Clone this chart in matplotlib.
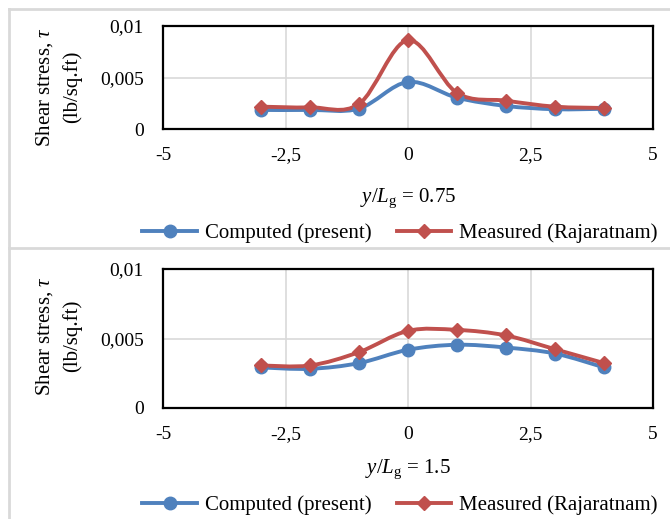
import matplotlib
matplotlib.use("Agg")
import matplotlib.pyplot as plt
import numpy as np
from matplotlib.lines import Line2D
from matplotlib.path import Path
from matplotlib.patches import PathPatch

plt.rcParams['font.family'] = ['Liberation Serif', 'DejaVu Serif']
plt.rcParams['mathtext.fontset'] = 'custom'
plt.rcParams['mathtext.rm'] = 'Liberation Serif'
plt.rcParams['mathtext.it'] = 'Liberation Serif:italic'

# data
y_pos = [-3, -2, -1, 0, 1, 2, 3, 4]
computed_075 = [0.00185, 0.00185, 0.00198, 0.00457, 0.00304, 0.00224, 0.00192, 0.00196]
measured_075 = [0.00217, 0.00210, 0.00243, 0.00863, 0.00351, 0.00275, 0.00217, 0.00204]
computed_15 = [0.00292, 0.00282, 0.00323, 0.00419, 0.00455, 0.00435, 0.00392, 0.00292]
measured_15 = [0.00306, 0.00306, 0.00402, 0.00555, 0.00562, 0.00522, 0.00423, 0.00323]

x_ticks = [-5, -2.5, 0, 2.5, 5]
x_tick_labels = ['-5', '-2,5', '0', '2,5', '5']
y_ticks = [0, 0.005, 0.01]
y_tick_labels = ['0', '0,005', '0,01']
panel_titles = ['0.75', '1.5']
series_names = ['Computed (present)', 'Measured (Rajaratnam)']

BLUE = '#4F81BD'
RED = '#C0504D'
GRID = '#D9D9D9'

W, H = 670, 519


def smooth_path(x, y):
    '''
    Excel-like smoothed line: cubic Bezier through the points (Catmull-Rom)
    '''
    pts = np.column_stack([x, y]).astype(float)
    n = len(pts)
    verts = [pts[0]]
    codes = [Path.MOVETO]
    for i in range(n - 1):
        p0 = pts[i - 1] if i > 0 else pts[i]
        p1 = pts[i]
        p2 = pts[i + 1]
        p3 = pts[i + 2] if i + 2 < n else pts[i + 1]
        c1 = p1 + (p2 - p0) / 6.0
        c2 = p2 - (p3 - p1) / 6.0
        verts += [c1, c2, p2]
        codes += [Path.CURVE4] * 3
    return Path(verts, codes)


def fx(px):
    return px / W


def fy(py):
    return 1 - py / H


fig = plt.figure(figsize=(6.7, 5.19), dpi=100)

# panel frames
for seg in [((9, 670), (9, 9)), ((9, 9), (9, 519)), ((9, 670), (248, 248))]:
    fig.add_artist(Line2D([fx(seg[0][0]), fx(seg[0][1])], [fy(seg[1][0]), fy(seg[1][1])],
                          color=GRID, lw=2.0, transform=fig.transFigure))

panels = [
    dict(top=26, bottom=129, comp=computed_075, meas=measured_075, ylab=87, xlab=198, leg=233),
    dict(top=269, bottom=408, comp=computed_15, meas=measured_15, ylab=336, xlab=469, leg=505),
]

for p, title in zip(panels, panel_titles):
    ax = fig.add_axes([fx(163), fy(p['bottom']), fx(653) - fx(163), (p['bottom'] - p['top']) / H])
    ax.set_xlim(-5, 5)
    ax.set_ylim(0, 0.01)
    ax.set_xticks(x_ticks)
    ax.set_xticklabels(x_tick_labels)
    ax.set_yticks(y_ticks)
    ax.set_yticklabels(y_tick_labels)
    ax.tick_params(axis='both', length=0, labelsize=14)
    ax.tick_params(axis='x', pad=13)
    ax.tick_params(axis='y', pad=14)
    ax.grid(True, color=GRID, lw=1.2)
    ax.set_axisbelow(True)
    for s in ax.spines.values():
        s.set_linewidth(1.6)
        s.set_color('black')

    for vals, col, mk, ms in [(p['comp'], BLUE, 'o', 9), (p['meas'], RED, 'D', 7.5)]:
        ax.add_patch(PathPatch(smooth_path(y_pos, vals), fill=False, edgecolor=col,
                               lw=2.8, capstyle='round', joinstyle='round', zorder=3))
        ax.plot(y_pos, vals, ls='none', marker=mk, ms=ms, color=col, zorder=4, clip_on=False)

    fig.text(fx(45), fy(p['ylab']), 'Shear stress, ' + r'$\tau$', rotation=90,
             ha='center', va='center', fontsize=15)
    fig.text(fx(72), fy(p['ylab']), '(lb/sq.ft)', rotation=90,
             ha='center', va='center', fontsize=15)
    fig.text(fx(408), fy(p['xlab']), r'$y$/$L_{\mathrm{g}}$ = ' + title,
             ha='center', va='center', fontsize=15)

    handles = [Line2D([], [], color=BLUE, lw=2.8, marker='o', ms=9),
               Line2D([], [], color=RED, lw=2.8, marker='D', ms=7.5)]
    fig.legend(handles, series_names, loc='center', bbox_to_anchor=(fx(400), fy(p['leg'])),
               ncol=2, frameon=False, fontsize=15, handlelength=2.6, handletextpad=0.4,
               columnspacing=1.2, borderpad=0)

fig.savefig('out.png', dpi=100)
